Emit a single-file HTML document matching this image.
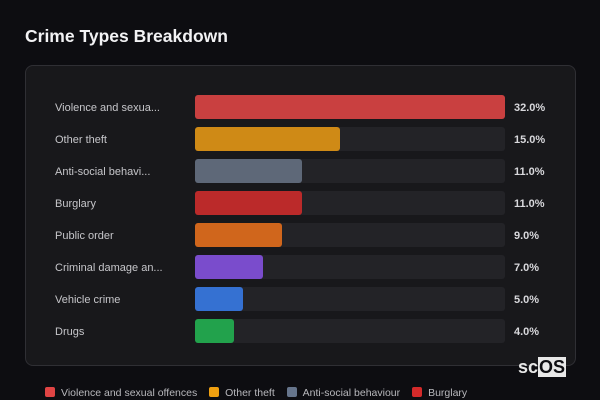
<!DOCTYPE html>
<html><head><meta charset="utf-8"><style>
body{margin:0;width:600px;height:400px;background:#0d0d11;font-family:"Liberation Sans","DejaVu Sans",sans-serif;overflow:hidden;position:relative}
.title{position:absolute;left:25px;top:26px;font-size:17.5px;font-weight:bold;color:#f2f2f4}
.card{position:absolute;left:25px;top:65px;width:549px;height:299px;background:#18181b;border:1px solid #2f2f34;border-radius:8px}
.lab{position:absolute;left:55px;font-size:11px;color:#c6c6ca}
.track{position:absolute;left:195px;width:310px;height:24px;background:#232327;border-radius:3px}
.bar{position:absolute;left:195px;height:24px;border-radius:3px}
.val{position:absolute;left:514px;font-size:11px;font-weight:bold;color:#d8d8dc}
.legend{position:absolute;top:387px;left:45px;font-size:10.5px;color:#b8b8bc;white-space:nowrap}
.li{display:inline-block;margin-right:9px}
.sw{display:inline-block;width:10px;height:10px;border-radius:2px;margin-right:6px;vertical-align:-1px}
.logo{position:absolute;left:518px;top:357px;font-size:18px;font-weight:bold;color:#e8e8e8}
.logo span{background:#e8e8e8;color:#0d0d11;padding:0 1px}
</style></head><body>
<div class="title">Crime Types Breakdown</div>
<div class="card"></div>
<div id="chart"></div>
<div class="legend">
<span class="li"><span class="sw" style="background:#e04444"></span>Violence and sexual offences</span>
<span class="li"><span class="sw" style="background:#f0a010"></span>Other theft</span>
<span class="li"><span class="sw" style="background:#66758c"></span>Anti-social behaviour</span>
<span class="li"><span class="sw" style="background:#d42a2a"></span>Burglary</span>
</div>
<div class="logo">sc<span>OS</span></div>
<script>
const categories=["Violence and sexua...","Other theft","Anti-social behavi...","Burglary","Public order","Criminal damage an...","Vehicle crime","Drugs"];
const values=[32,15,11,11,9,7,5,4];
const valueLabels=["32.0%","15.0%","11.0%","11.0%","9.0%","7.0%","5.0%","4.0%"];
const colors=["#c94040","#cf8a16","#5e6878","#bb2a2a","#d0661c","#7a4ccc","#3571d2","#22a24c"];
const maxV=32,trackW=310,top0=95,pitch=32;
const x=v=>v/maxV*trackW;
const root=document.getElementById('chart');
categories.forEach((c,i)=>{
 const y=top0+i*pitch;
 const l=document.createElement('div');l.className='lab';l.style.top=(y+7)+'px';l.textContent=c;
 
 
 const t=document.createElement('div');t.className='track';t.style.top=y+'px';
 
 
 const b=document.createElement('div');b.className='bar';b.style.top=y+'px';b.style.width=x(values[i])+'px';b.style.background=colors[i];
 
 
 const v=document.createElement('div');v.className='val';v.style.top=(y+7)+'px';v.textContent=valueLabels[i];
 
 
 root.append(l,t,b,v);
});
</script>
</body></html>
